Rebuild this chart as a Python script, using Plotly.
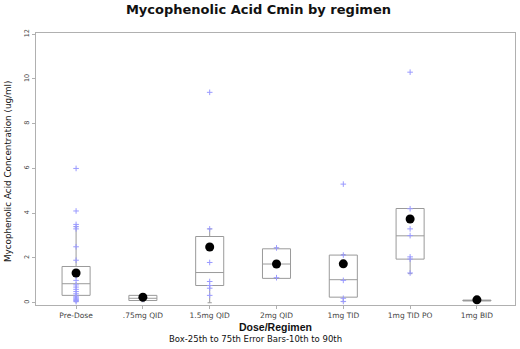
import plotly.graph_objects as go

categories = ["Pre-Dose", ".75mg QID", "1.5mg QID", "2mg QID", "1mg TID", "1mg TID PO", "1mg BID"]

# box statistics (25th, median, 75th) and error bars (10th, 90th)
q1 = [0.33, 0.10, 0.77, 1.09, 0.25, 1.95, 0.08]
median = [0.85, 0.20, 1.35, 1.73, 1.03, 2.99, 0.10]
q3 = [1.62, 0.33, 2.96, 2.41, 2.13, 4.21, 0.12]
p10 = [0.05, 0.05, 0.00, 1.10, 0.05, 1.30, 0.06]
p90 = [3.40, 0.35, 3.30, 2.45, 2.15, 4.21, 0.14]
means = [1.33, 0.25, 2.49, 1.73, 1.74, 3.74, 0.13]

# individual observations per group
obs_pre = [6.0, 4.1, 3.5, 3.4, 3.3, 2.5, 1.9, 1.2, 1.0, 0.8, 0.7, 0.6, 0.5, 0.4, 0.3, 0.25, 0.2, 0.15, 0.1, 0.05]
obs_075 = [0.3, 0.2, 0.15]
obs_15 = [9.4, 3.3, 1.8, 0.95, 0.77, 0.65, 0.33]
obs_2 = [2.45, 1.73, 1.12]
obs_tid = [5.3, 2.13, 1.0, 0.2, 0.06]
obs_tidpo = [10.3, 4.2, 3.3, 3.0, 2.05, 1.95, 1.33]
obs_bid = [0.1]
observations = [obs_pre, obs_075, obs_15, obs_2, obs_tid, obs_tidpo, obs_bid]

yticks = [0, 2, 4, 6, 8, 10, 12]

xs = list(range(len(categories)))

fig = go.Figure()

fig.add_trace(go.Box(
    x=xs, q1=q1, median=median, q3=q3, lowerfence=p10, upperfence=p90,
    width=0.42, whiskerwidth=0.15,
    line=dict(color="#9a9a9a", width=1), fillcolor="rgba(255,255,255,0)",
    boxpoints=False, showlegend=False, hoverinfo="skip",
))

px_, py_ = [], []
for i, obs in enumerate(observations):
    px_ += [i] * len(obs)
    py_ += obs
fig.add_trace(go.Scatter(
    x=px_, y=py_, mode="markers", showlegend=False,
    marker=dict(symbol="cross-thin", size=4, line=dict(color="#9a9aff", width=1)),
))

fig.add_trace(go.Scatter(
    x=xs, y=means, mode="markers", showlegend=False,
    marker=dict(symbol="circle", size=9, color="black"),
))

fig.update_layout(
    width=520, height=349,
    margin=dict(l=36, r=5, t=33, b=44),
    paper_bgcolor="white", plot_bgcolor="white",
    font=dict(family="DejaVu Sans", color="#222"),
    title=dict(text="<b>Mycophenolic Acid Cmin by regimen</b>", x=0.497, xanchor="center",
               y=0.972, yanchor="middle", font=dict(size=13, color="#111")),
    xaxis=dict(range=[-0.6, 6.57], tickvals=xs, ticktext=categories,
               showline=True, mirror=True, linecolor="#b0b0b0", linewidth=1,
               ticks="outside", ticklen=3, tickcolor="#b0b0b0",
               showgrid=False, zeroline=False, tickfont=dict(size=7.5, color="#444")),
    yaxis=dict(range=[-0.1, 12.05], tickvals=yticks, tickangle=-90,
               showline=True, mirror=True, linecolor="#b0b0b0", linewidth=1,
               ticks="outside", ticklen=3, tickcolor="#b0b0b0",
               showgrid=False, zeroline=False, tickfont=dict(size=6.5, color="#444")),
    annotations=[
        dict(text="Mycophenolic Acid Concentration (ug/ml)", xref="paper", yref="paper",
             x=-0.058, y=0.493, textangle=-90, showarrow=False,
             xanchor="center", yanchor="middle",
             font=dict(size=8.8, color="#111")),
        dict(text="<b>Dose/Regimen</b>", xref="paper", yref="paper", x=0.5, y=-0.081,
             showarrow=False, xanchor="center", yanchor="middle",
             font=dict(family="Liberation Sans", size=10.5, color="#111")),
        dict(text="Box-25th to 75th Error Bars-10th to 90th", xref="paper", yref="paper",
             x=0.459, y=-0.125, showarrow=False, xanchor="center", yanchor="middle",
             font=dict(size=8.5, color="#111")),
    ],
)

fig.write_html("out.html", config={"displayModeBar": False},
               post_script="document.body.style.margin='0';document.body.style.overflow='hidden';")
